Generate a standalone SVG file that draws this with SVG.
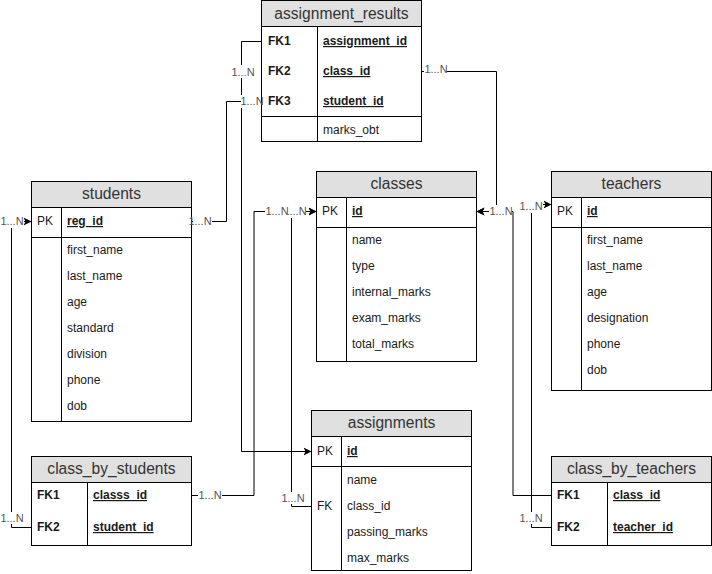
<svg xmlns="http://www.w3.org/2000/svg" width="712" height="574" viewBox="0 0 712 574">
  <defs>
    <style>
      .box{fill:#fff;stroke:#000;stroke-width:1}
      .hd{fill:#e0e0e0;stroke:#000;stroke-width:1}
      .ln{stroke:#000;stroke-width:1;fill:none}
      text{font-family:"Liberation Sans",Arial,Helvetica,sans-serif}
      .t{font-size:12px;fill:#1a1a1a}
      .h{font-size:15.6px;fill:#333;text-anchor:middle}
      .b{font-weight:bold}
      .u{text-decoration:underline}
      .e{fill:none;stroke:#000;stroke-width:1}
      .lb{fill:#fff;stroke:none}
      .lt{font-size:11px;fill:#555;text-anchor:middle}
    </style>
    <marker id="arr" markerUnits="userSpaceOnUse" markerWidth="9" markerHeight="9" refX="8" refY="4.5" orient="auto">
      <path d="M0,0.5 L8,4.5 L0,8.5 L2,4.5 Z" fill="#000"/>
    </marker>
  </defs>
  <rect width="712" height="574" fill="#fff"/>

  <!-- tables -->
  <g id="assignment_results">
    <rect class="box" x="261.5" y="0.5" width="160" height="141"/>
    <rect class="hd" x="261.5" y="0.5" width="160" height="26"/>
    <line class="ln" x1="317.5" y1="26.5" x2="317.5" y2="141.5"/>
    <line class="ln" x1="261.5" y1="116.5" x2="421.5" y2="116.5"/>
    <text class="h" x="341.5" y="18.5">assignment_results</text>
    <text class="t b" x="268" y="45">FK1</text>
    <text class="t b u" x="323" y="45">assignment_id</text>
    <text class="t b" x="268" y="75">FK2</text>
    <text class="t b u" x="323" y="75">class_id</text>
    <text class="t b" x="268" y="105">FK3</text>
    <text class="t b u" x="323" y="105">student_id</text>
    <text class="t" x="323" y="134">marks_obt</text>
  </g>

  <g id="classes">
    <rect class="box" x="316.5" y="171.5" width="160" height="190"/>
    <rect class="hd" x="316.5" y="171.5" width="160" height="26"/>
    <line class="ln" x1="316.5" y1="227.5" x2="476.5" y2="227.5"/>
    <line class="ln" x1="346.5" y1="197.5" x2="346.5" y2="361.5"/>
    <text class="h" x="396.5" y="189">classes</text>
    <text class="t" x="322" y="215">PK</text>
    <text class="t b u" x="352" y="215">id</text>
    <text class="t" x="352" y="244">name</text>
    <text class="t" x="352" y="270">type</text>
    <text class="t" x="352" y="296">internal_marks</text>
    <text class="t" x="352" y="322">exam_marks</text>
    <text class="t" x="352" y="348">total_marks</text>
  </g>

  <g id="teachers">
    <rect class="box" x="551.5" y="171.5" width="160" height="219"/>
    <rect class="hd" x="551.5" y="171.5" width="160" height="26"/>
    <line class="ln" x1="551.5" y1="227.5" x2="711.5" y2="227.5"/>
    <line class="ln" x1="581.5" y1="197.5" x2="581.5" y2="390.5"/>
    <text class="h" x="631.5" y="189">teachers</text>
    <text class="t" x="557" y="215">PK</text>
    <text class="t b u" x="587" y="215">id</text>
    <text class="t" x="587" y="244">first_name</text>
    <text class="t" x="587" y="270">last_name</text>
    <text class="t" x="587" y="296">age</text>
    <text class="t" x="587" y="322">designation</text>
    <text class="t" x="587" y="348">phone</text>
    <text class="t" x="587" y="374">dob</text>
  </g>

  <g id="students">
    <rect class="box" x="31.5" y="181.5" width="160" height="240"/>
    <rect class="hd" x="31.5" y="181.5" width="160" height="26"/>
    <line class="ln" x1="31.5" y1="237.5" x2="191.5" y2="237.5"/>
    <line class="ln" x1="61.5" y1="207.5" x2="61.5" y2="421.5"/>
    <text class="h" x="111.5" y="199">students</text>
    <text class="t" x="37" y="225">PK</text>
    <text class="t b u" x="67" y="225">reg_id</text>
    <text class="t" x="67" y="254">first_name</text>
    <text class="t" x="67" y="280">last_name</text>
    <text class="t" x="67" y="306">age</text>
    <text class="t" x="67" y="332">standard</text>
    <text class="t" x="67" y="358">division</text>
    <text class="t" x="67" y="384">phone</text>
    <text class="t" x="67" y="410">dob</text>
  </g>

  <g id="class_by_students">
    <rect class="box" x="31.5" y="456.5" width="160" height="89"/>
    <rect class="hd" x="31.5" y="456.5" width="160" height="26"/>
    <line class="ln" x1="87.5" y1="482.5" x2="87.5" y2="545.5"/>
    <text class="h" x="111.5" y="474">class_by_students</text>
    <text class="t b" x="37" y="499">FK1</text>
    <text class="t b u" x="93" y="499">classs_id</text>
    <text class="t b" x="37" y="531">FK2</text>
    <text class="t b u" x="93" y="531">student_id</text>
  </g>

  <g id="assignments">
    <rect class="box" x="311.5" y="410.5" width="160" height="160"/>
    <rect class="hd" x="311.5" y="410.5" width="160" height="26"/>
    <line class="ln" x1="311.5" y1="466.5" x2="471.5" y2="466.5"/>
    <line class="ln" x1="341.5" y1="436.5" x2="341.5" y2="570.5"/>
    <text class="h" x="391.5" y="428">assignments</text>
    <text class="t" x="317" y="455">PK</text>
    <text class="t b u" x="347" y="455">id</text>
    <text class="t" x="317" y="510">FK</text>
    <text class="t" x="347" y="484">name</text>
    <text class="t" x="347" y="510">class_id</text>
    <text class="t" x="347" y="536">passing_marks</text>
    <text class="t" x="347" y="562">max_marks</text>
  </g>

  <g id="class_by_teachers">
    <rect class="box" x="551.5" y="456.5" width="160" height="89"/>
    <rect class="hd" x="551.5" y="456.5" width="160" height="26"/>
    <line class="ln" x1="607.5" y1="482.5" x2="607.5" y2="545.5"/>
    <text class="h" x="631.5" y="474">class_by_teachers</text>
    <text class="t b" x="557" y="499">FK1</text>
    <text class="t b u" x="613" y="499">class_id</text>
    <text class="t b" x="557" y="531">FK2</text>
    <text class="t b u" x="613" y="531">teacher_id</text>
  </g>

  <!-- relations -->
  <g id="connectors">
    <path class="e" d="M261.5,41.5 H241.5 V451.5 H311.5" marker-end="url(#arr)"/>
    <path class="e" d="M191.5,221.5 H226.5 V101.5 H261.5"/>
    <path class="e" d="M421.5,71.5 H496.5 V211.5 H476.5" marker-end="url(#arr)"/>
    <path class="e" d="M191.5,495.5 H254 V211.5 H316.5" marker-end="url(#arr)"/>
    <path class="e" d="M311.5,506.5 H291.5 V211.5 H316.5" marker-end="url(#arr)"/>
    <path class="e" d="M31.5,527.5 H11.5 V221.5 H31.5" marker-end="url(#arr)"/>
    <path class="e" d="M551.5,495.5 H513 V211.5 H476.5" marker-end="url(#arr)"/>
    <path class="e" d="M551.5,527.5 H531.5 V204.5 H551.5" marker-end="url(#arr)"/>

    <!-- cardinality labels -->
    <rect class="lb" x="231" y="65" width="24" height="13"/><text class="lt" x="243" y="76">1...N</text>
    <rect class="lb" x="193" y="215" width="19" height="13"/><text class="lt" x="200" y="225">1...N</text>
    <rect class="lb" x="241" y="95" width="20" height="13"/><text class="lt" x="252" y="105">1...N</text>
    <rect class="lb" x="424" y="63" width="23" height="13"/><text class="lt" x="436" y="73">1...N</text>
    <rect class="lb" x="489" y="205" width="23" height="13"/><text class="lt" x="501" y="215">1...N</text>
    <rect class="lb" x="283" y="205" width="23" height="13"/><text class="lt" x="295" y="215">1...N</text>
    <rect class="lb" x="281" y="492" width="23" height="12"/><text class="lt" x="293" y="502">1...N</text>
    <rect class="lb" x="265" y="205" width="23" height="13"/><text class="lt" x="277" y="215">1...N</text>
    <rect class="lb" x="198" y="489" width="24" height="13"/><text class="lt" x="210" y="499">1...N</text>
    <rect class="lb" x="0" y="215" width="24" height="13"/><text class="lt" x="12" y="225">1...N</text>
    <rect class="lb" x="0" y="512" width="24" height="12"/><text class="lt" x="12" y="522">1...N</text>
    <rect class="lb" x="519" y="200" width="24" height="13"/><text class="lt" x="531" y="210">1...N</text>
    <rect class="lb" x="519" y="512" width="24" height="12"/><text class="lt" x="531" y="522">1...N</text>
  </g>
</svg>
